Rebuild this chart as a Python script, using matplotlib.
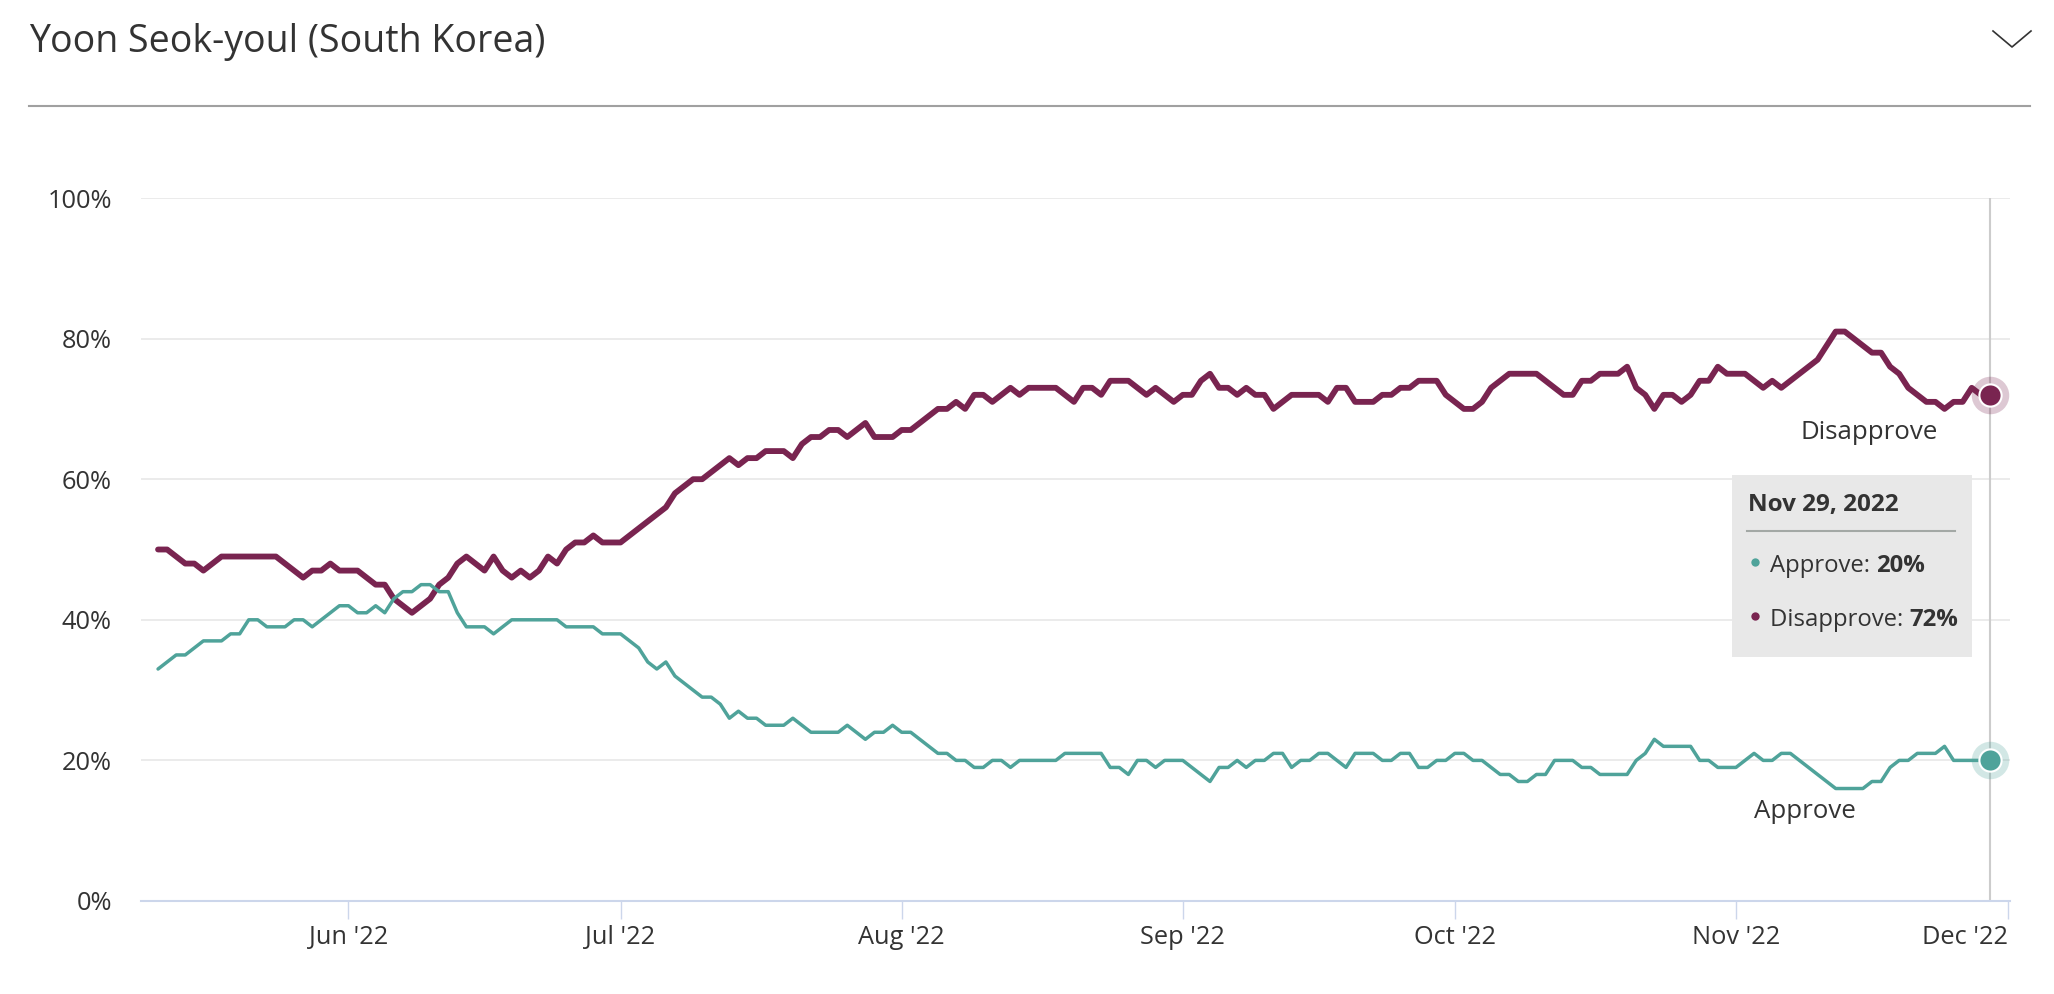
import matplotlib
matplotlib.use("Agg")
import matplotlib.pyplot as plt
import pandas as pd
from matplotlib.patches import Rectangle
from matplotlib.lines import Line2D

plt.rcParams['font.family'] = ['Open Sans', 'DejaVu Sans']

# ---------------- data (daily, May 11 .. Nov 29 2022)
title_text   = "Yoon Seok-youl (South Korea)"
start_date   = "2022-05-11"
end_date     = "2022-11-29"

disapprove = [
    50, 50, 49, 48, 48, 47, 48, 49, 49, 49,
    49, 49, 49, 49, 48, 47, 46, 47, 47, 48,
    47, 47, 47, 46, 45, 45, 43, 42, 41, 42,
    43, 45, 46, 48, 49, 48, 47, 49, 47, 46,
    47, 46, 47, 49, 48, 50, 51, 51, 52, 51,
    51, 51, 52, 53, 54, 55, 56, 58, 59, 60,
    60, 61, 62, 63, 62, 63, 63, 64, 64, 64,
    63, 65, 66, 66, 67, 67, 66, 67, 68, 66,
    66, 66, 67, 67, 68, 69, 70, 70, 71, 70,
    72, 72, 71, 72, 73, 72, 73, 73, 73, 73,
    72, 71, 73, 73, 72, 74, 74, 74, 73, 72,
    73, 72, 71, 72, 72, 74, 75, 73, 73, 72,
    73, 72, 72, 70, 71, 72, 72, 72, 72, 71,
    73, 73, 71, 71, 71, 72, 72, 73, 73, 74,
    74, 74, 72, 71, 70, 70, 71, 73, 74, 75,
    75, 75, 75, 74, 73, 72, 72, 74, 74, 75,
    75, 75, 76, 73, 72, 70, 72, 72, 71, 72,
    74, 74, 76, 75, 75, 75, 74, 73, 74, 73,
    74, 75, 76, 77, 79, 81, 81, 80, 79, 78,
    78, 76, 75, 73, 72, 71, 71, 70, 71, 71,
    73, 72, 72,
]

approve = [
    33, 34, 35, 35, 36, 37, 37, 37, 38, 38,
    40, 40, 39, 39, 39, 40, 40, 39, 40, 41,
    42, 42, 41, 41, 42, 41, 43, 44, 44, 45,
    45, 44, 44, 41, 39, 39, 39, 38, 39, 40,
    40, 40, 40, 40, 40, 39, 39, 39, 39, 38,
    38, 38, 37, 36, 34, 33, 34, 32, 31, 30,
    29, 29, 28, 26, 27, 26, 26, 25, 25, 25,
    26, 25, 24, 24, 24, 24, 25, 24, 23, 24,
    24, 25, 24, 24, 23, 22, 21, 21, 20, 20,
    19, 19, 20, 20, 19, 20, 20, 20, 20, 20,
    21, 21, 21, 21, 21, 19, 19, 18, 20, 20,
    19, 20, 20, 20, 19, 18, 17, 19, 19, 20,
    19, 20, 20, 21, 21, 19, 20, 20, 21, 21,
    20, 19, 21, 21, 21, 20, 20, 21, 21, 19,
    19, 20, 20, 21, 21, 20, 20, 19, 18, 18,
    17, 17, 18, 18, 20, 20, 20, 19, 19, 18,
    18, 18, 18, 20, 21, 23, 22, 22, 22, 22,
    20, 20, 19, 19, 19, 20, 21, 20, 20, 21,
    21, 20, 19, 18, 17, 16, 16, 16, 16, 17,
    17, 19, 20, 20, 21, 21, 21, 22, 20, 20,
    20, 20, 20,
]

y_ticks      = [0, 20, 40, 60, 80, 100]
y_labels     = ["0%", "20%", "40%", "60%", "80%", "100%"]
month_ticks  = ["2022-06-01", "2022-07-01", "2022-08-01", "2022-09-01",
                "2022-10-01", "2022-11-01", "2022-12-01"]
month_labels = ["Jun '22", "Jul '22", "Aug '22", "Sep '22", "Oct '22", "Nov '22", "Dec '22"]
tooltip_date = "Nov 29, 2022"

TEAL    = "#4fa39a"
MAROON  = "#792450"
TXT     = "#333333"
AXIS_C  = "#ccd6eb"
GRID_C  = "#e6e6e6"

W, H = 2054, 994

def fx( x ):
    return x / W

def fy( y ):
    return 1 - y / H

dates = pd.date_range( start_date, end_date, freq="D" )

fig = plt.figure( figsize=( W / 100, H / 100 ), dpi=100 )
ax  = fig.add_axes( [ fx( 141 ), fy( 901 ), ( 2010 - 141 ) / W, ( 901 - 198 ) / H ] )

# --------- axes limits / grid
x_left  = pd.Timestamp( "2022-06-01" ) - pd.Timedelta( days=22.88 )
x_right = pd.Timestamp( "2022-12-01" ) + pd.Timedelta( days=0.22 )
ax.set_xlim( x_left, x_right )
ax.set_ylim( 0, 100 )

for s in [ "top", "right", "left" ]:
    ax.spines[ s ].set_visible( False )
ax.spines[ "bottom" ].set_color( AXIS_C )
ax.spines[ "bottom" ].set_linewidth( 1.5 )

ax.set_yticks( y_ticks )
ax.set_yticklabels( y_labels )
ax.tick_params( axis="y", length=0, pad=21, labelsize=18.3, labelcolor=TXT )
for yv in y_ticks[ 1: ]:
    ax.axhline( yv, color=GRID_C, lw=1.1, zorder=0 )

ax.set_xticks( pd.to_datetime( month_ticks ) )
ax.set_xticklabels( month_labels )
ax.tick_params( axis="x", direction="out", length=13, width=1, color=AXIS_C,
                pad=4, labelsize=18.3, labelcolor=TXT )
ax.get_xticklabels()[ -1 ].set_horizontalalignment( "right" )

# --------- lines
ax.plot( dates, disapprove, color=MAROON, lw=4.2, solid_joinstyle="round",
         solid_capstyle="round", zorder=3 )
ax.plot( dates, approve, color=TEAL, lw=2.5, solid_joinstyle="round",
         solid_capstyle="round", zorder=3 )

# crosshair at hovered point
last = dates[ -1 ]
ax.axvline( last, color="#cccccc", lw=1.5, zorder=2 )

for vals, col in [ ( disapprove, MAROON ), ( approve, TEAL ) ]:
    ax.plot( [ last ], [ vals[ -1 ] ], "o", ms=27, color=col, alpha=0.25, mec="none", zorder=4 )
    ax.plot( [ last ], [ vals[ -1 ] ], "o", ms=16, color=col, mec="white", mew=1.5, zorder=5 )

# series labels
ax.annotate( "Disapprove", ( last, disapprove[ -1 ] ), xytext=( -87, -27 ),
             textcoords="offset points", ha="center", va="center", fontsize=18.6, color=TXT )
ax.annotate( "Approve", ( last, approve[ -1 ] ), xytext=( -133, -37 ),
             textcoords="offset points", ha="center", va="center", fontsize=18.6, color=TXT )

# --------- tooltip (figure pixel positions)
fig.patches.append( Rectangle( ( fx( 1732 ), fy( 657 ) ), ( 1972 - 1732 ) / W, ( 657 - 475 ) / H,
                               transform=fig.transFigure, facecolor="#e8e8e8", edgecolor="none",
                               zorder=6 ) )
fig.text( fx( 1748 ), fy( 505 ), tooltip_date, fontsize=17.5, fontweight="bold", color=TXT,
          va="center", ha="left", zorder=7 )
fig.add_artist( Line2D( [ fx( 1747 ), fx( 1955 ) ], [ fy( 531 ) ] * 2, color="#a3a8a5", lw=1.5,
                        zorder=7 ) )
rows = [ ( 566, TEAL, "Approve: ", f"{approve[-1]}%" ),
         ( 620, MAROON, "Disapprove: ", f"{disapprove[-1]}%" ) ]
for ypx, col, lab, val in rows:
    fig.add_artist( Line2D( [ fx( 1755 ) ], [ fy( ypx - 4 ) ], marker="o", ms=6, color=col,
                            mec="none", zorder=7 ) )
    t = fig.text( fx( 1770 ), fy( ypx ), lab, fontsize=17.2, color=TXT, va="center", ha="left",
                  zorder=7 )
    fig.canvas.draw()
    bb = t.get_window_extent()
    fig.text( bb.x1 / W, fy( ypx ), val, fontsize=17.2, fontweight="bold", color=TXT,
              va="center", ha="left", zorder=7 )

# --------- header
fig.text( fx( 29 ), fy( 42 ), title_text, fontsize=27, color=TXT, va="center", ha="left" )
fig.add_artist( Line2D( [ fx( 29 ), fx( 2030 ) ], [ fy( 106 ) ] * 2, color="#a0a0a0", lw=1.5 ) )
fig.add_artist( Line2D( [ fx( 1993 ), fx( 2012 ), fx( 2031 ) ], [ fy( 31 ), fy( 47 ), fy( 31 ) ],
                        color=TXT, lw=1.2 ) )

fig.savefig( "out.png", dpi=100, facecolor="white" )
